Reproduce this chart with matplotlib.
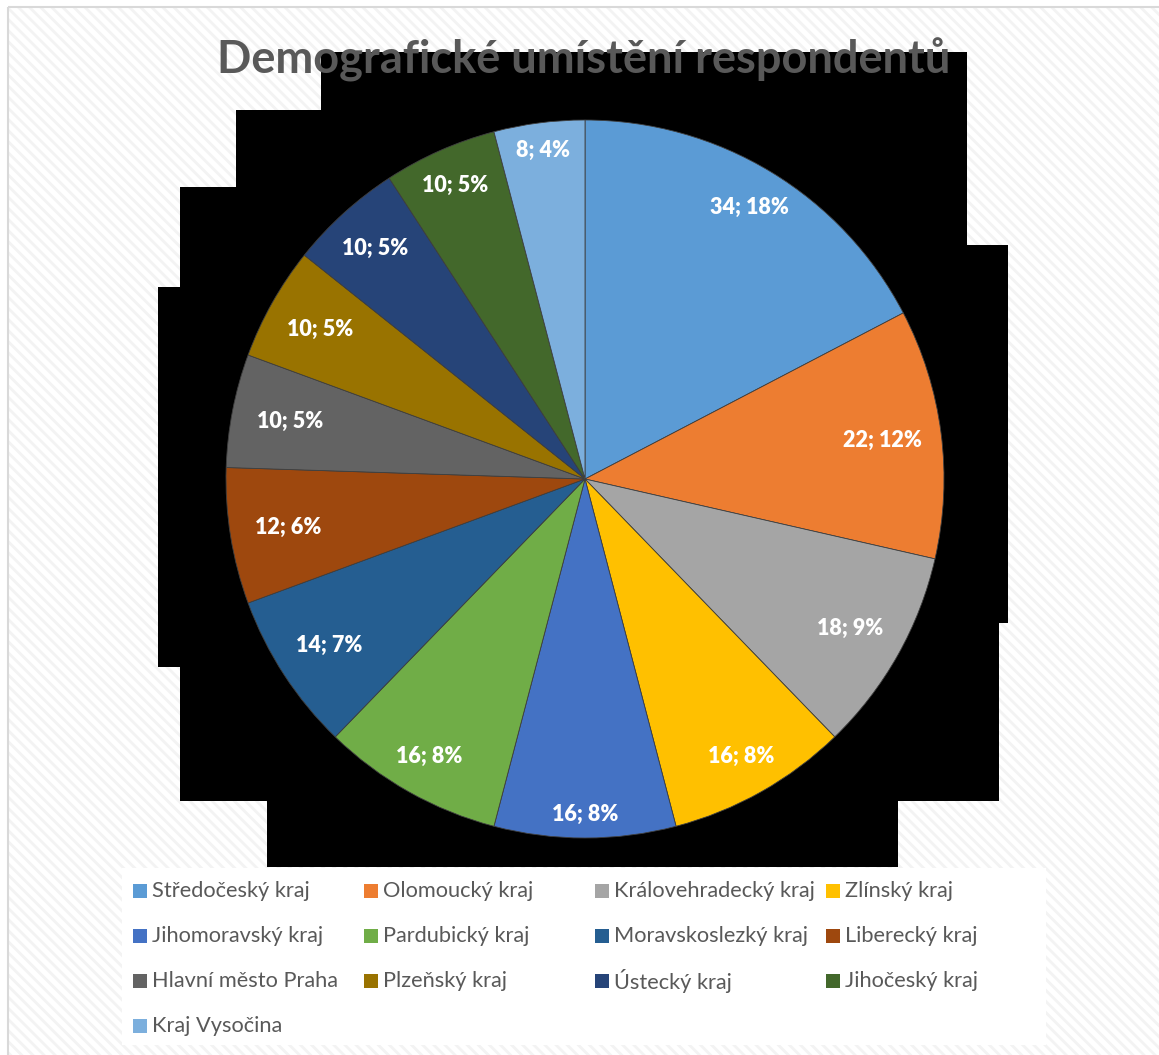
import numpy as np
import matplotlib
matplotlib.use("Agg")
import matplotlib.pyplot as plt
from matplotlib.patches import Rectangle, Polygon

# Data: počet respondentů podle kraje
kraje = ["Středočeský kraj", "Olomoucký kraj", "Královehradecký kraj", "Zlínský kraj",
         "Jihomoravský kraj", "Pardubický kraj", "Moravskoslezký kraj", "Liberecký kraj",
         "Hlavní město Praha", "Plzeňský kraj", "Ústecký kraj", "Jihočeský kraj",
         "Kraj Vysočina"]
pocty = [34, 22, 18, 16, 16, 16, 14, 12, 10, 10, 10, 10, 8]
procenta = [18, 12, 9, 8, 8, 8, 7, 6, 5, 5, 5, 5, 4]
barvy = ["#5B9BD5", "#ED7D31", "#A5A5A5", "#FFC000", "#4472C4", "#70AD47", "#255E91",
         "#9E480E", "#636363", "#997300", "#264478", "#43682B", "#7CAFDD"]

W, H = 1159, 1055
FONT = "Lato"
SEDA = "#595959"

fig = plt.figure(figsize=(W / 100, H / 100), dpi=100)

# pozadí v pixelových souřadnicích
bg = fig.add_axes([0, 0, 1, 1])
bg.set_xlim(0, W)
bg.set_ylim(H, 0)
bg.axis("off")

# šrafované pozadí (barva šraf se bere z edgecolor), rámeček zvlášť
plt.rcParams["hatch.linewidth"] = 2.0
bg.add_patch(Rectangle((8, 7), W + 20, H + 20, facecolor="white", hatch="\\\\\\",
                       edgecolor="#f3f3f3", linewidth=0))
bg.add_patch(Rectangle((8, 7), W + 20, H + 20, facecolor="none",
                       edgecolor="#d9d9d9", linewidth=1.5))

# černý podklad za grafem
obrys = [(321, 52), (967, 52), (967, 245), (1008, 245), (1008, 623), (999, 623),
         (999, 801), (898, 801), (898, 867), (267, 867), (267, 801), (180, 801),
         (180, 667), (158, 667), (158, 287), (180, 287), (180, 187), (236, 187),
         (236, 110), (321, 110)]
bg.add_patch(Polygon(obrys, closed=True, facecolor="black", edgecolor="none"))

# bílý rámeček legendy
bg.add_patch(Rectangle((122, 868), 924, 177, facecolor="white", edgecolor="none"))

bg.text(584, 60, "Demografické umístění respondentů", ha="center", va="center",
        fontsize=32.5, fontweight="bold", color=SEDA, family=FONT)

# koláč
cx, cy, R = 585, 479, 359
ax = fig.add_axes([(cx - R) / W, (H - cy - R) / H, 2 * R / W, 2 * R / H])
wedges, _ = ax.pie(pocty, colors=barvy, startangle=90, counterclock=False,
                   wedgeprops=dict(edgecolor="#3f3f3f", linewidth=0.6))
ax.set_xlim(-1, 1)
ax.set_ylim(-1, 1)

# popisky u vnějšího okraje výsečí
for w, n, p in zip(wedges, pocty, procenta):
    th = np.deg2rad((w.theta1 + w.theta2) / 2)
    r = 0.935 - 0.1 * abs(np.cos(th))
    ax.text(r * np.cos(th), r * np.sin(th), f"{n}; {p}%", ha="center", va="center",
            fontsize=15.5, fontweight="heavy", color="white", family=FONT)

# legenda po řádcích, 4 sloupce
for i, (name, c) in enumerate(zip(kraje, barvy)):
    row, col = divmod(i, 4)
    x = 133 + col * 231
    y = 891 + row * 45
    bg.add_patch(Rectangle((x, y - 7), 14, 14, facecolor=c, edgecolor="none"))
    bg.text(x + 19, y, name, ha="left", va="center", fontsize=15.7, color=SEDA,
            family=FONT)

fig.savefig("out.png", dpi=100)
